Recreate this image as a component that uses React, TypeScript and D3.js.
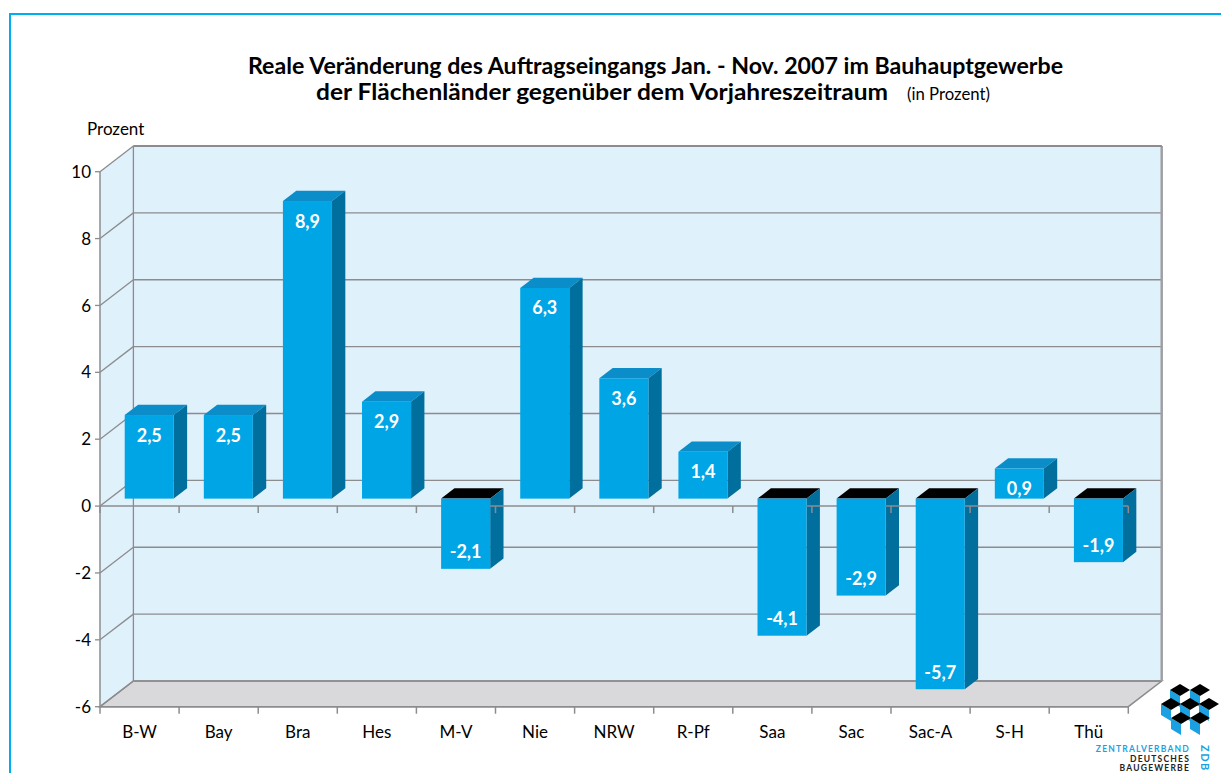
import React from "react";
import * as d3 from "d3";

const categories = ["B-W", "Bay", "Bra", "Hes", "M-V", "Nie", "NRW", "R-Pf", "Saa", "Sac", "Sac-A", "S-H", "Thü"];
const values = [2.5, 2.5, 8.9, 2.9, -2.1, 6.3, 3.6, 1.4, -4.1, -2.9, -5.7, 0.9, -1.9];
const yTicks = [-6, -4, -2, 0, 2, 4, 6, 8, 10];

const W = 1221;
const H = 773;
const X0 = 100;
const X1 = 1128.3;
const DX = 33.4;
const DY = 25.7;
const F0 = 0.29;
const F1 = 0.69;
const FONT = "Lato, 'Open Sans', sans-serif";

const C_WALL = "#dff1fb";
const C_FLOOR = "#d9d9db";
const C_GRID = "#8c8c8f";
const C_FRONT = "#00a5e6";
const C_TOP = "#0a8dc8";
const C_SIDE = "#006f9e";

export default function App() {
  const y = d3.scaleLinear().domain([-6, 10]).range([706.7, 171.7]);
  const x = d3.scaleBand<string>().domain(categories).range([X0, X1]).paddingInner(0).paddingOuter(0);
  const bw = x.bandwidth();
  const barW = bw * 0.62;
  const ddx = (F1 - F0) * DX;
  const ddy = (F1 - F0) * DY;

  const yTop = y(10);
  const yBot = y(-6);
  const pts = (a: number[][]) => a.map((p) => p.join(",")).join(" ");
  const boundaries = d3.range(categories.length + 1).map((k) => X0 + k * bw);

  const cubes = [
    [1180, 690], [1200, 690],
    [1171, 704], [1190, 704], [1209, 704],
    [1181, 718], [1200, 718],
  ];

  return (
    <svg width={W} height={H} style={{ position: "absolute", left: 0, top: 0, background: "#fff" }} fontFamily={FONT}>
      <rect x={10} y={14} width={1300} height={900} fill="none" stroke="#00aeef" strokeWidth={2} />

      {/* Title */}
      <text x={655.5} y={74} textAnchor="middle" fontSize={22} fontWeight={700} textLength={815} lengthAdjust="spacingAndGlyphs" fill="#000">
        Reale Veränderung des Auftragseingangs Jan. - Nov. 2007 im Bauhauptgewerbe
      </text>
      <text x={316} y={100} fontSize={22} fontWeight={700} textLength={572} lengthAdjust="spacingAndGlyphs" fill="#000">
        der Flächenländer gegenüber dem Vorjahreszeitraum
      </text>
      <text x={907} y={100} fontSize={17} fill="#000" textLength={83} lengthAdjust="spacingAndGlyphs">(in Prozent)</text>
      <text x={87} y={135} fontSize={17} fill="#000">Prozent</text>

      {/* Walls */}
      <polygon points={pts([[X0, yTop], [X0 + DX, yTop - DY], [X0 + DX, yBot - DY], [X0, yBot]])} fill={C_WALL} />
      <rect x={X0 + DX} y={yTop - DY} width={X1 - X0} height={yBot - yTop} fill={C_WALL} />
      <polygon points={pts([[X0, yBot], [X0 + DX, yBot - DY], [X1 + DX, yBot - DY], [X1, yBot]])} fill={C_FLOOR} stroke={C_GRID} strokeWidth={1.5} />

      {/* Grid lines */}
      {yTicks.map((t) => (
        <g key={"g" + t}>
          <line x1={X0} y1={y(t)} x2={X0 + DX} y2={y(t) - DY} stroke={C_GRID} strokeWidth={1.3} />
          <line x1={X0 + DX} y1={y(t) - DY} x2={X1 + DX} y2={y(t) - DY} stroke={C_GRID} strokeWidth={1.3} />
          <line x1={X0 - 5} y1={y(t)} x2={X0} y2={y(t)} stroke={C_GRID} strokeWidth={1.3} />
          <text x={91} y={y(t)} dy="0.36em" textAnchor="end" fontSize={17} fill="#000">{t}</text>
        </g>
      ))}
      <line x1={X0 + DX} y1={yTop - DY} x2={X0 + DX} y2={yBot - DY} stroke={C_GRID} strokeWidth={1.3} />
      <line x1={X1 + DX} y1={yTop - DY} x2={X1 + DX} y2={yBot - DY} stroke="#a0a0a4" strokeWidth={2.5} />
      <line x1={X0 + DX} y1={yTop - DY} x2={X1 + DX} y2={yTop - DY} stroke={C_GRID} strokeWidth={1.8} />
      <line x1={X0} y1={yTop} x2={X0} y2={yBot} stroke={C_GRID} strokeWidth={1.5} />

      {/* Floor front edge ticks */}
      <line x1={X0} y1={yBot} x2={X1} y2={yBot} stroke={C_GRID} strokeWidth={1.5} />
      {boundaries.map((bx, k) => (
        <line key={"bt" + k} x1={bx} y1={yBot} x2={bx} y2={yBot + 7} stroke={C_GRID} strokeWidth={1.5} />
      ))}

      {/* Bars: top + side faces */}
      {values.map((v, i) => {
        const cx = (x(categories[i]) as number) + bw / 2 + F0 * DX;
        const x1 = cx - barW / 2;
        const x2 = cx + barW / 2;
        const yv = y(v) - F0 * DY;
        const y0 = y(0) - F0 * DY;
        const top = Math.min(yv, y0);
        const bot = Math.max(yv, y0);
        return (
          <g key={"b" + i}>
            <polygon points={pts([[x1, top], [x1 + ddx, top - ddy], [x2 + ddx, top - ddy], [x2, top]])} fill={v >= 0 ? C_TOP : "#000"} />
            <polygon points={pts([[x2, top], [x2 + ddx, top - ddy], [x2 + ddx, bot - ddy], [x2, bot]])} fill={C_SIDE} />
          </g>
        );
      })}

      {/* Zero axis */}
      <line x1={X0} y1={y(0)} x2={X1} y2={y(0)} stroke={C_GRID} strokeWidth={1.5} />
      {boundaries.map((bx, k) => (
        <line key={"zt" + k} x1={bx} y1={y(0)} x2={bx} y2={y(0) + 7} stroke={C_GRID} strokeWidth={1.5} />
      ))}

      {/* Bars: front faces + labels */}
      {values.map((v, i) => {
        const cx = (x(categories[i]) as number) + bw / 2 + F0 * DX;
        const x1 = cx - barW / 2;
        const yv = y(v) - F0 * DY;
        const y0 = y(0) - F0 * DY;
        const top = Math.min(yv, y0);
        const bot = Math.max(yv, y0);
        const ly = v >= 0 ? top + 20 : bot - 17;
        return (
          <g key={"f" + i}>
            <rect x={x1} y={top} width={barW} height={bot - top} fill={C_FRONT} />
            <text x={cx} y={ly} dy="0.36em" textAnchor="middle" fontSize={18} fontWeight={700} fill="#fff">
              {String(v).replace(".", ",")}
            </text>
          </g>
        );
      })}

      {/* Category labels */}
      {categories.map((c) => (
        <text key={"c" + c} x={(x(c) as number) + bw / 2} y={738} textAnchor="middle" fontSize={17} fill="#000">{c}</text>
      ))}

      {/* Logo */}
      <g>
        {cubes.map(([cx, cy], k) => (
          <g key={"cb" + k}>
            <polygon points={pts([[cx - 10, cy], [cx, cy + 6], [cx, cy + 17], [cx - 10, cy + 11]])} fill="#1ba1e2" />
            <polygon points={pts([[cx - 10, cy], [cx, cy - 6], [cx + 10, cy], [cx, cy + 6]])} fill="#000" />
          </g>
        ))}
        <text x={1190} y={752} textAnchor="end" fontSize={8.5} fontWeight={700} letterSpacing={1.2} fill="#1ba1e2">ZENTRALVERBAND</text>
        <text x={1190} y={762} textAnchor="end" fontSize={8.5} fontWeight={700} letterSpacing={1.2} fill="#222">DEUTSCHES</text>
        <text x={1190} y={771} textAnchor="end" fontSize={8.5} fontWeight={700} letterSpacing={1.2} fill="#222">BAUGEWERBE</text>
        <text x={1201} y={745} transform="rotate(90 1201 745)" fontSize={11} fontWeight={700} letterSpacing={1.5} fill="#1ba1e2">ZDB</text>
      </g>
    </svg>
  );
}
